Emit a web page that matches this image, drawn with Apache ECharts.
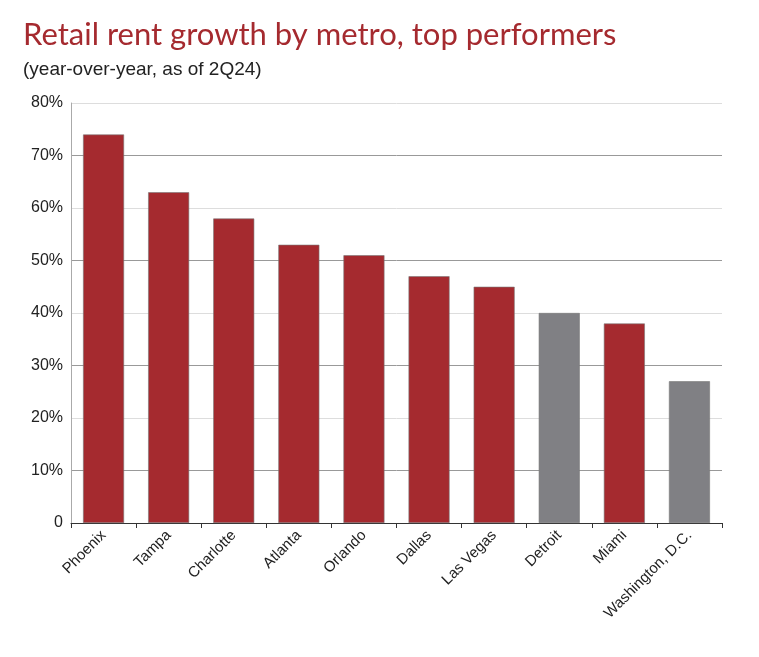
<!DOCTYPE html>
<html><head><meta charset="utf-8">
<script src="https://cdn.jsdelivr.net/npm/echarts@6/dist/echarts.min.js"></script>
<style>body{margin:0;background:#fff}#c{width:759px;height:657px}</style>
</head><body><div id="c"></div>
<script>
const metros = ['Phoenix', 'Tampa', 'Charlotte', 'Atlanta', 'Orlando', 'Dallas', 'Las Vegas', 'Detroit', 'Miami', 'Washington, D.C.'];
const growth = [74, 63, 58, 53, 51, 47, 45, 40, 38, 27];
const grayMetros = ['Detroit', 'Washington, D.C.'];
const yTicks = [0, 10, 20, 30, 40, 50, 60, 70, 80];

var chart = echarts.init(document.getElementById('c'));
chart.setOption({
  animation: false,
  title: {
    text: 'Retail rent growth by metro, top performers',
    subtext: '(year-over-year, as of 2Q24)',
    left: 18, top: 14, itemGap: 10,
    textStyle: { color: '#a52a2f', fontSize: 31, fontWeight: 'normal', fontFamily: 'Lato' },
    subtextStyle: { color: '#222', fontSize: 19, fontFamily: 'Liberation Sans' }
  },
  grid: { left: 71, right: 37, top: 103, bottom: 134 },
  xAxis: {
    type: 'category', data: metros,
    axisLine: { lineStyle: { color: '#333' } },
    axisTick: { show: true, alignWithLabel: false, lineStyle: { color: '#333' } },
    axisLabel: { rotate: 45, color: '#222', fontSize: 15, fontFamily: 'Liberation Sans', interval: 0, margin: 10 }
  },
  yAxis: {
    type: 'value', min: 0, max: 80, interval: 10,
    axisLine: { show: true, lineStyle: { color: '#aaa' } },
    axisLabel: { color: '#222', fontSize: 16, fontFamily: 'Liberation Sans',
      formatter: v => v === 0 ? '0' : v + '%' },
    splitLine: { lineStyle: { color: ['#ddd', '#999'] } }
  },
  series: [{
    type: 'bar', barWidth: 41,
    data: growth.map((v, i) => ({
      value: v,
      itemStyle: { color: grayMetros.includes(metros[i]) ? '#808084' : '#a52a2f', borderColor: '#777', borderWidth: 0.6 }
    }))
  }]
});
</script></body></html>
